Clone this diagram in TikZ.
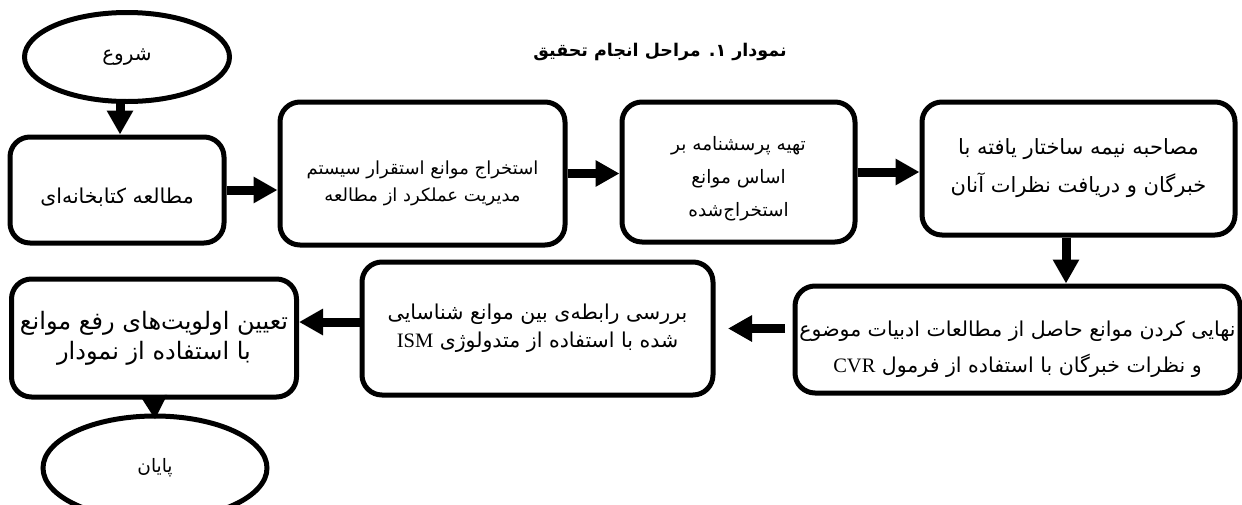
\documentclass[tikz,border=0pt]{standalone}
\usepackage{fontspec}
\usetikzlibrary{arrows.meta,positioning,shapes.geometric}
\setmainfont{Liberation Serif}
\newfontfamily\persianfont[Script=Arabic]{DejaVu Sans}
\TeXXeTstate=1
\newcommand{\rl}[1]{\beginR#1\endR}
\newcommand{\lr}[1]{\beginL#1\endL}
\tikzset{
  fs/.style 2 args={font=\persianfont\fontsize{#1}{#2}\selectfont},
  stepbox/.style={draw,rectangle,rounded corners=20pt,line width=5pt,fill=white,align=center,fs={20.5}{36}},
  termnode/.style={draw,ellipse,line width=5pt,fill=white,fs={20}{24}},
  arr/.style={-{Triangle[length=24pt,width=25pt]},line width=9pt},
  ttl/.style={font=\persianfont\bfseries\fontsize{17.5}{20}\selectfont}
}
\begin{document}
\begin{tikzpicture}[x=1pt,y=-1pt]
  \useasboundingbox (0,0) rectangle (1242,504);
  % title
  \node[ttl] (title) at (660,52) {\rl{نمودار ۱. مراحل انجام تحقیق}};

  % top row
  \node[termnode, minimum width=205pt, minimum height=89pt] (start) at (127,57) {\rl{شروع}};
  \node[stepbox, minimum width=214pt, minimum height=106pt] (lib) at (117,190)
    {\rule{0pt}{29pt}\rl{مطالعه کتابخانه^^^^200cای}};
  \node[stepbox, fs={18}{27}, minimum width=285pt, minimum height=143pt] (extract) at (422.5,173.5)
    {\rule{0pt}{33pt}\rl{استخراج موانع استقرار سیستم}\\\rl{مدیریت عملکرد از مطالعه}};
  \node[stepbox, fs={18.5}{33}, minimum width=233pt, minimum height=140pt] (quest) at (738.5,172)
    {\rule{0pt}{27.5pt}\rl{تهیه پرسشنامه بر}\\\rl{اساس موانع}\\\rl{استخراج^^^^200cشده}};
  \node[stepbox, fs={21}{38}, minimum width=313pt, minimum height=133pt] (interview) at (1078.5,168.5)
    {\rl{مصاحبه نیمه ساختار یافته با}\\\rl{خبرگان و دریافت نظرات آنان}};

  % bottom row
  \node[stepbox, minimum width=445pt, minimum height=107pt] (final) at (1017.5,339.5)
    {\rule{0pt}{35pt}\rl{نهایی کردن موانع حاصل از مطالعات ادبیات موضوع}\\\rl{و نظرات خبرگان با استفاده از فرمول \lr{\rmfamily CVR}}};
  \node[stepbox, fs={20.5}{28}, minimum width=351pt, minimum height=133pt] (ism) at (537.5,328.5)
    {\rl{بررسی رابطه^^^^200cی بین موانع شناسایی}\\\rl{شده با استفاده از متدولوژی \lr{\rmfamily ISM}}};
  \node[stepbox, fs={24}{30}, minimum width=285pt, minimum height=118pt] (prio) at (154,338)
    {\rl{تعیین اولویت^^^^200cهای رفع موانع}\\\rl{با استفاده از نمودار}};
  \node[termnode, fs={18.5}{22}, minimum width=224pt, minimum height=104pt] (end) at (155,468) {\rl{پایان}};

  \draw[arr] ([xshift=-7pt]start.south) -- ([xshift=3pt]lib.north);
  \draw[arr] (lib.east) -- (lib.east -| extract.west);
  \draw[arr] (extract.east) -- (extract.east -| quest.west);
  \draw[arr] (quest.east) -- (quest.east -| interview.west);
  \draw[arr] ([xshift=-12.5pt]interview.south) -- ([xshift=48.5pt]final.north);
  \draw[arr,shorten <=7.5pt,shorten >=12.5pt] (final.west |- ism.east) -- (ism.east);
  \draw[arr] ([yshift=6.5pt]ism.west) -- ([yshift=16pt]prio.east);
  \draw[arr] (prio.south) -- ([yshift=-6pt]end.north);
\end{tikzpicture}
\end{document}
